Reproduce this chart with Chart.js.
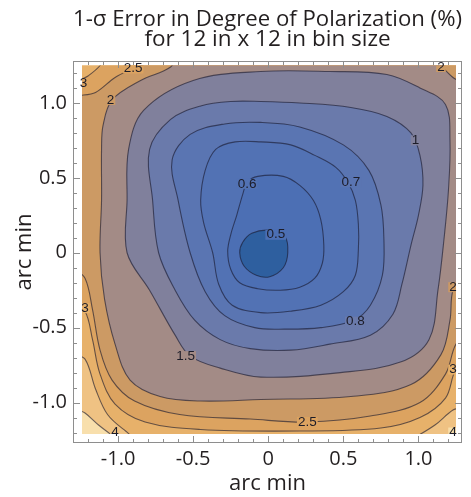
<!DOCTYPE html>
<html>
<head>
<meta charset="utf-8">
<script src="https://cdn.jsdelivr.net/npm/chart.js@4.4.1/dist/chart.umd.min.js"></script>
<style>
  html, body { margin: 0; padding: 0; background: #ffffff; }
  #wrap { width: 471px; height: 497px; }
</style>
</head>
<body>
<div id="wrap"><canvas id="chart" width="471" height="497"></canvas></div>
<script>
// 1-sigma error in degree of polarization (%), 12 in x 12 in bins.
// Each contour is the closed boundary of the region below that level (arc min).
const contourLevels = [0.5, 0.6, 0.7, 0.8, 1, 1.5, 2, 2.5, 3, 3.5, 4];

const contour05 = [[0.13,0],[0.11,0.11],[0.01,0.15],[-0.11,0.13],[-0.17,0.07],[-0.19,0],[-0.16,-0.09],[-0.08,-0.15],[0.01,-0.16],[0.10,-0.10]];
const contour06 = [[-0.14,0.47],[-0.07,0.51],[0.10,0.51],[0.21,0.45],[0.30,0.35],[0.35,0.22],[0.37,0.05],[0.36,-0.07],[0.31,-0.17],[0.21,-0.23],[0.08,-0.25],[-0.07,-0.24],[-0.19,-0.20],[-0.25,-0.11],[-0.27,0.01],[-0.25,0.12],[-0.21,0.25],[-0.17,0.39]];
const contour07 = [[-0.05,0.74],[0.15,0.72],[0.31,0.65],[0.45,0.57],[0.53,0.47],[0.58,0.35],[0.60,0.19],[0.60,0.02],[0.58,-0.15],[0.50,-0.26],[0.35,-0.35],[0.15,-0.39],[-0.05,-0.40],[-0.24,-0.35],[-0.33,-0.21],[-0.37,0],[-0.43,0.2],[-0.45,0.35],[-0.42,0.55],[-0.35,0.69],[-0.22,0.74]];
const contour08 = [[-0.05,0.87],[0.21,0.84],[0.50,0.72],[0.67,0.55],[0.75,0.32],[0.77,0.09],[0.76,-0.15],[0.68,-0.35],[0.57,-0.45],[0.35,-0.50],[0.11,-0.51],[-0.09,-0.50],[-0.29,-0.42],[-0.42,-0.26],[-0.52,0],[-0.60,0.35],[-0.64,0.62],[-0.52,0.79],[-0.29,0.86]];
const contour10 = [[-0.05,1.01],[0.21,1.00],[0.55,0.97],[0.79,0.91],[0.95,0.80],[1.01,0.65],[1.03,0.45],[1.00,0.25],[0.95,0.05],[0.89,-0.21],[0.83,-0.41],[0.68,-0.55],[0.41,-0.61],[0.15,-0.65],[-0.12,-0.64],[-0.32,-0.58],[-0.49,-0.45],[-0.62,-0.25],[-0.73,0],[-0.77,0.35],[-0.79,0.69],[-0.65,0.89],[-0.45,0.98],[-0.25,1.01]];
const contour15 = [[-0.50,1.15],[-0.05,1.21],[0.41,1.21],[0.79,1.19],[1.01,1.10],[1.18,0.99],[1.21,0.75],[1.20,0.42],[1.17,0.09],[1.13,-0.25],[1.07,-0.58],[0.88,-0.73],[0.48,-0.80],[-0.05,-0.83],[-0.32,-0.77],[-0.52,-0.69],[-0.62,-0.55],[-0.79,-0.25],[-0.94,0],[-0.94,0.35],[-0.93,0.69],[-0.83,0.95]];
const contour20 = [[-0.59,1.34],[1.07,1.34],[1.15,1.25],[1.23,1.17],[1.33,1.10],[1.33,-0.06],[1.23,-0.25],[1.21,-0.45],[1.15,-0.68],[0.95,-0.88],[0.55,-0.96],[-0.05,-0.98],[-0.45,-0.99],[-0.72,-0.96],[-0.92,-0.85],[-1.02,-0.61],[-1.09,-0.31],[-1.12,0],[-1.11,0.35],[-1.11,0.69],[-1.10,0.85],[-1.04,1.02],[-0.85,1.15],[-0.65,1.24]];
const contour25 = [[-0.79,1.34],[1.33,1.34],[1.33,-0.55],[1.25,-0.61],[1.18,-0.81],[1.01,-1.00],[0.68,-1.09],[0.26,-1.13],[-0.12,-1.11],[-0.59,-1.08],[-0.89,-0.99],[-1.04,-0.85],[-1.12,-0.65],[-1.17,-0.38],[-1.22,-0.17],[-1.32,-0.06],[-1.32,1.01],[-1.15,1.07],[-1.02,1.17],[-0.90,1.23],[-0.81,1.27]];
const contour30 = [[-1.07,1.34],[1.33,1.34],[1.33,-0.75],[1.25,-0.78],[1.18,-0.97],[1.01,-1.10],[0.75,-1.17],[0.21,-1.19],[-0.45,-1.18],[-0.82,-1.13],[-1.02,-1.01],[-1.12,-0.81],[-1.17,-0.58],[-1.22,-0.39],[-1.32,-0.31],[-1.32,1.10],[-1.20,1.18],[-1.12,1.25]];
const contour35 = [[-1.32,1.34],[1.33,1.34],[1.33,-1.01],[1.23,-1.05],[1.11,-1.15],[0.95,-1.25],[0.88,-1.30],[-0.79,-1.30],[-0.95,-1.19],[-1.07,-1.08],[-1.15,-0.91],[-1.22,-0.71],[-1.32,-0.65]];
const contour40 = [[-1.32,1.34],[1.33,1.34],[1.33,-1.13],[1.25,-1.17],[1.19,-1.23],[1.15,-1.30],[-0.95,-1.30],[-1.04,-1.22],[-1.13,-1.15],[-1.22,-1.07],[-1.32,-1.01]];

// extent of the sampled field (arc min)
const fieldX = [-1.24, 1.25];
const fieldY = [-1.21, 1.25];

// axis ticks
const tickValues = [-1, -0.5, 0, 0.5, 1];
const tickLabels = ['-1.0', '-0.5', '0', '0.5', '1.0'];
const minorTicks = [-1.2, -1.1, -0.9, -0.8, -0.7, -0.6, -0.4, -0.3, -0.2, -0.1, 0.1, 0.2, 0.3, 0.4, 0.6, 0.7, 0.8, 0.9, 1.1, 1.2];

// contour labels
const labelText = ['0.5', '0.6', '0.7', '0.8', '1', '1.5', '2', '2', '2', '2.5', '2.5', '3', '3', '3', '4', '4'];
const labelX = [0.05, -0.14, 0.55, 0.58, 0.98, -0.55, -1.05, 1.15, 1.23, -0.90, 0.26, -1.23, -1.22, 1.23, -1.02, 1.23];
const labelY = [0.12, 0.46, 0.47, -0.46, 0.75, -0.69, 1.02, 1.24, -0.23, 1.23, -1.13, 1.13, -0.37, -0.78, -1.20, -1.20];

// fill of each band: below contourLevels[i]; the last entry is above the top level
const bandColors = ['#2e5f9f', '#4c6fb4', '#5272b4', '#5a75b2', '#6a7aab', '#80809c', '#a38b86', '#cc9a64', '#dca360', '#e7b16a', '#efc283', '#f8dfac'];

const contours = [contour05, contour06, contour07, contour08, contour10, contour15, contour20, contour25, contour30, contour35, contour40];

const datasets = contours.map((path, i) => ({
  label: String(contourLevels[i]),
  data: path.map(([x, y]) => ({x, y})),
  backgroundColor: bandColors[i],
  borderColor: 'rgba(25,25,45,0.62)',
  borderWidth: 1.1,
  fill: 'shape',
  tension: 0.35,
  spanGaps: true,
  pointRadius: 0,
  pointHitRadius: 0,
  capBezierPoints: false
}));

const contourPlot = {
  id: 'contourPlot',
  afterDatasetsUpdate(chart) {
    chart.getSortedVisibleDatasetMetas().forEach(meta => {
      if (meta.dataset) { meta.dataset._loop = true; meta.dataset._fullLoop = true; }
    });
  },
  beforeDatasetsDraw(chart) {
    const {ctx, scales: {x, y}} = chart;
    const l = x.getPixelForValue(fieldX[0]), r = x.getPixelForValue(fieldX[1]);
    const t = y.getPixelForValue(fieldY[1]), b = y.getPixelForValue(fieldY[0]);
    ctx.save();
    ctx.beginPath();
    ctx.rect(l, t, r - l, b - t);
    ctx.clip();
    ctx.fillStyle = bandColors[bandColors.length - 1];
    ctx.fillRect(l, t, r - l, b - t);
  },
  afterDatasetsDraw(chart) {
    const {ctx, chartArea: a, scales: {x, y}} = chart;
    ctx.restore();

    const l = x.getPixelForValue(fieldX[0]), r = x.getPixelForValue(fieldX[1]);
    const t = y.getPixelForValue(fieldY[1]), b = y.getPixelForValue(fieldY[0]);

    // contour labels, set into a gap of the line
    ctx.save();
    ctx.font = '13.5px "Liberation Sans", Arial, sans-serif';
    ctx.textAlign = 'center';
    ctx.textBaseline = 'middle';
    labelText.forEach((txt, i) => {
      const cx = x.getPixelForValue(labelX[i]);
      const cy = y.getPixelForValue(labelY[i]);
      const w = ctx.measureText(txt).width + 2;
      const h = 12;
      const corners = [[cx - w / 2, cy - h / 2], [cx + w / 2, cy - h / 2], [cx - w / 2, cy + h / 2], [cx + w / 2, cy + h / 2]];
      let best = null, bestLum = -1;
      corners.forEach(([px, py]) => {
        const sx = Math.round(Math.min(r - 1, Math.max(l + 1, px)));
        const sy = Math.round(Math.min(b - 1, Math.max(t + 1, py)));
        const d = ctx.getImageData(sx, sy, 1, 1).data;
        const lum = d[0] + d[1] + d[2];
        if (lum > bestLum) { bestLum = lum; best = d; }
      });
      ctx.save();
      ctx.beginPath();
      ctx.rect(l, t, r - l, b - t);
      ctx.clip();
      ctx.fillStyle = `rgb(${best[0]},${best[1]},${best[2]})`;
      ctx.fillRect(cx - w / 2, cy - h / 2 + 1, w, h - 2);
      ctx.restore();
      ctx.fillStyle = '#1c1c28';
      ctx.fillText(txt, cx, cy);
    });
    ctx.restore();

    // frame with inward ticks on all four sides
    ctx.save();
    ctx.strokeStyle = '#8e8e8e';
    ctx.lineWidth = 1;
    ctx.strokeRect(a.left + 0.5, a.top + 0.5, a.right - a.left - 1, a.bottom - a.top - 1);
    const tick = (v, len) => {
      const px = Math.round(x.getPixelForValue(v)) + 0.5;
      const py = Math.round(y.getPixelForValue(v)) + 0.5;
      ctx.beginPath();
      ctx.moveTo(px, a.bottom); ctx.lineTo(px, a.bottom - len);
      ctx.moveTo(px, a.top); ctx.lineTo(px, a.top + len);
      ctx.moveTo(a.left, py); ctx.lineTo(a.left + len, py);
      ctx.moveTo(a.right, py); ctx.lineTo(a.right - len, py);
      ctx.stroke();
    };
    tickValues.forEach(v => tick(v, 7));
    minorTicks.forEach(v => tick(v, 4));
    ctx.restore();
  }
};

const fontFamily = '"Open Sans", sans-serif';

new Chart(document.getElementById('chart'), {
  type: 'line',
  data: { datasets },
  plugins: [contourPlot],
  options: {
    responsive: false,
    animation: false,
    events: [],
    layout: { padding: { left: 0, right: 9, top: 0, bottom: 0 } },
    plugins: {
      legend: { display: false },
      tooltip: { enabled: false },
      filler: { propagate: false },
      title: {
        display: true,
        fullSize: false,
        text: ['1-σ Error in Degree of Polarization (%)', 'for 12 in x 12 in bin size'],
        color: '#231f20',
        font: { family: fontFamily, size: 22.5, weight: 'normal', lineHeight: 20 / 22.5 },
        padding: { top: 10, bottom: 11 }
      }
    },
    scales: {
      x: {
        type: 'linear',
        min: -1.3, max: 1.29,
        grid: { display: false, drawTicks: false },
        border: { display: false },
        afterBuildTicks: s => { s.ticks = tickValues.map(v => ({value: v})); },
        afterFit: s => { s.height = 54; },
        ticks: {
          color: '#231f20',
          padding: 4,
          maxRotation: 0,
          font: { family: fontFamily, size: 20 },
          callback: (v, i) => tickLabels[i]
        },
        title: {
          display: true,
          text: 'arc min',
          color: '#231f20',
          font: { family: fontFamily, size: 22 },
          padding: { top: 0, bottom: 0 }
        }
      },
      y: {
        type: 'linear',
        min: -1.27, max: 1.28,
        grid: { display: false, drawTicks: false },
        border: { display: false },
        afterBuildTicks: s => { s.ticks = tickValues.map(v => ({value: v})); },
        afterFit: s => { s.width = 73; },
        ticks: {
          color: '#231f20',
          padding: 6,
          font: { family: fontFamily, size: 20 },
          callback: (v, i) => tickLabels[i]
        },
        title: {
          display: true,
          text: 'arc min',
          color: '#231f20',
          font: { family: fontFamily, size: 22 },
          padding: { top: 12, bottom: 0 }
        }
      }
    }
  }
});
</script>
</body>
</html>
